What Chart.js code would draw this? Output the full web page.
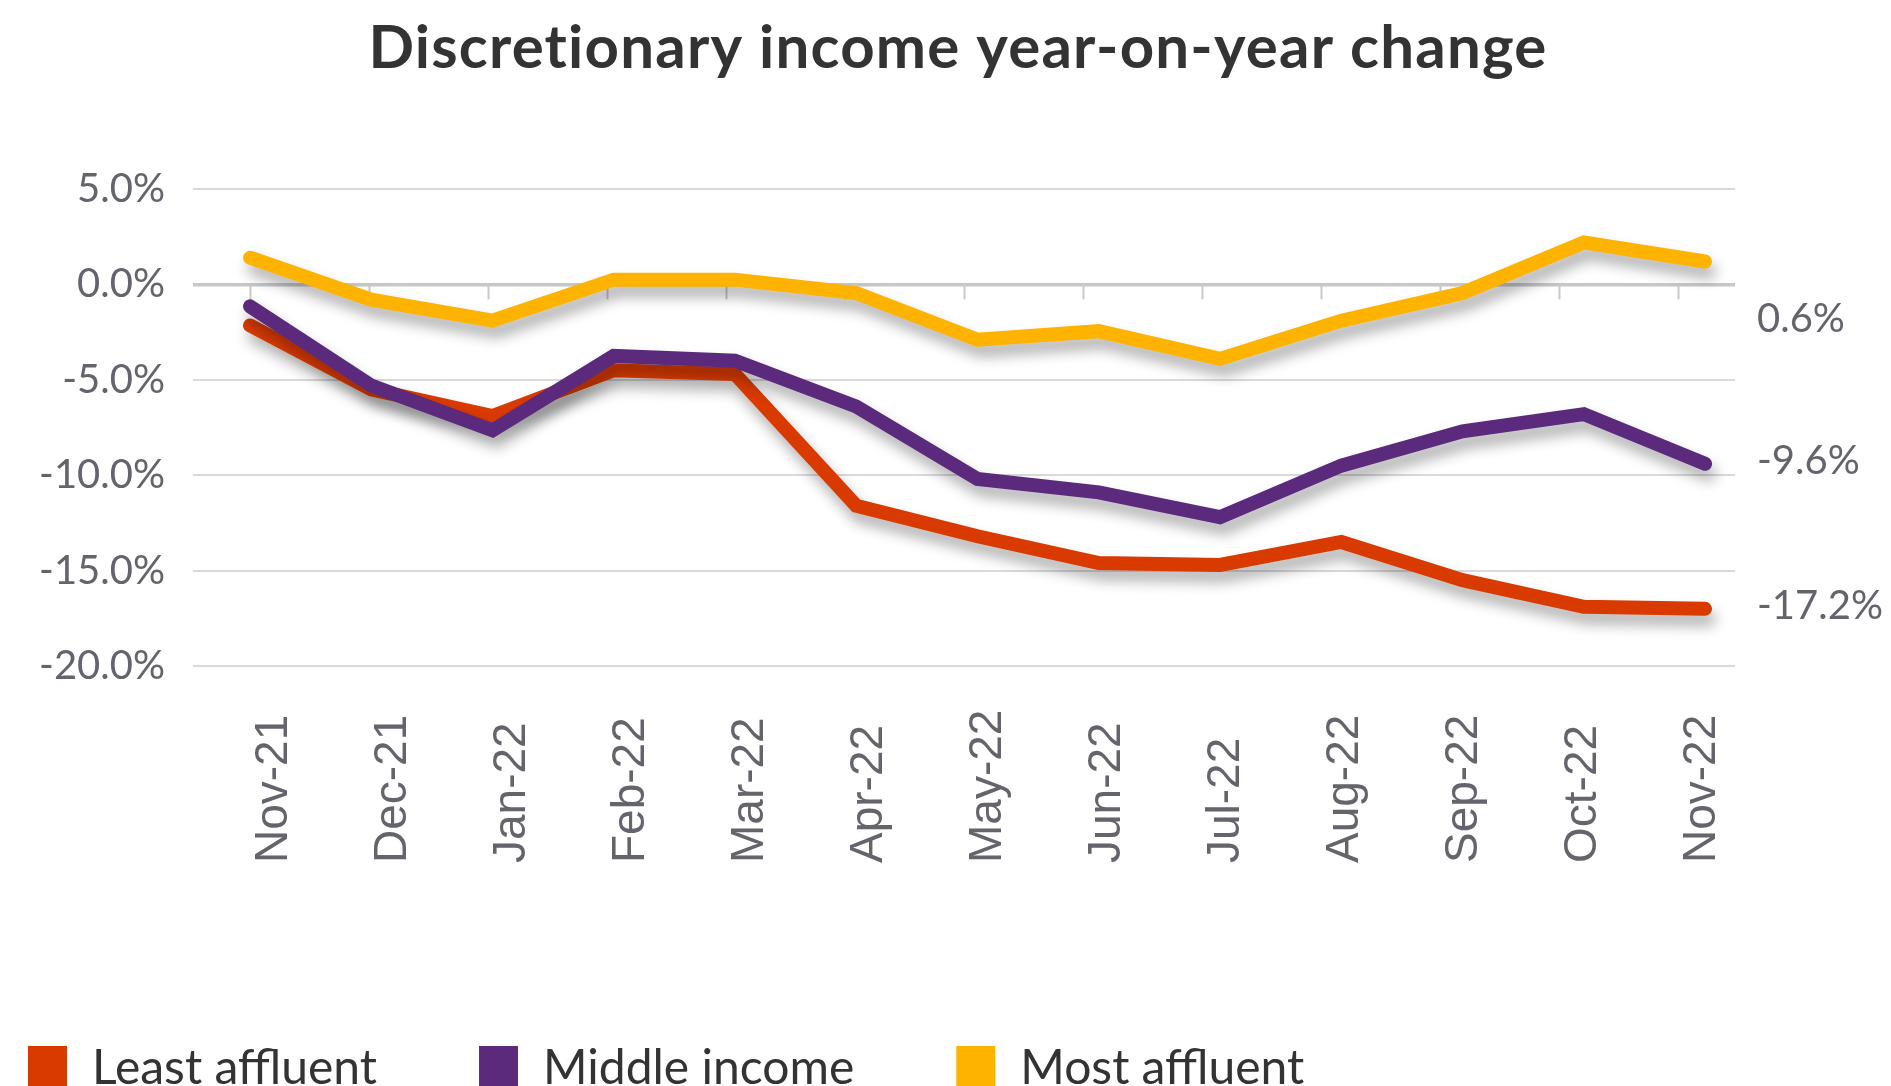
<!DOCTYPE html>
<html>
<head>
<meta charset="utf-8">
<script src="https://cdn.jsdelivr.net/npm/chart.js@4.4.1/dist/chart.umd.min.js"></script>
<style>
  html, body { margin: 0; padding: 0; background: #ffffff; }
  #wrap { width: 1891px; height: 1086px; position: relative; }
</style>
</head>
<body>
<div id="wrap"><canvas id="chart"></canvas></div>
<script>
// ---------------- DATA ----------------
const categories = ['Nov-21', 'Dec-21', 'Jan-22', 'Feb-22', 'Mar-22', 'Apr-22', 'May-22',
                    'Jun-22', 'Jul-22', 'Aug-22', 'Sep-22', 'Oct-22', 'Nov-22'];
const leastAffluent = [-2.15, -5.5, -6.9, -4.5, -4.7, -11.6, -13.2, -14.6, -14.7, -13.5, -15.5, -16.9, -17.0];
const middleIncome  = [-1.15, -5.3, -7.65, -3.75, -4.0, -6.4, -10.2, -10.9, -12.2, -9.5, -7.7, -6.8, -9.4];
const mostAffluent  = [1.4, -0.8, -1.9, 0.25, 0.25, -0.45, -2.9, -2.45, -3.9, -1.9, -0.45, 2.2, 1.2];
const seriesNames = ['Least affluent', 'Middle income', 'Most affluent'];
const endLabels = ['-17.2%', '-9.6%', '0.6%'];
const yTicks = [-20, -15, -10, -5, 0, 5];

const colors = ['#D93A00', '#5B2A7D', '#FDB300'];
const TEXT_GREY = '#65636B';

function toPoints(arr) {
    return arr.map((v, i) => ({ x: i, y: v }));
}

// ---------------- CUSTOM DRAWING ----------------
const decor = {
    id: 'decor',
    beforeDatasetsDraw(chart) {
        const ctx = chart.ctx;
        const xt = chart.scales.xt;
        const y = chart.scales.y;
        const zero = y.getPixelForValue(0);

        // small category ticks under the zero line
        ctx.save();
        ctx.strokeStyle = '#C9C9C9';
        ctx.lineWidth = 2;
        categories.forEach((c, i) => {
            const px = Math.round(xt.getPixelForValue(i)) + 0.5;
            ctx.beginPath();
            ctx.moveTo(px, zero);
            ctx.lineTo(px, zero + 15);
            ctx.stroke();
        });
        ctx.restore();

        // drop shadow for the lines
        ctx.save();
        ctx.shadowColor = 'rgba(0,0,0,0.32)';
        ctx.shadowBlur = 14;
        ctx.shadowOffsetX = 4;
        ctx.shadowOffsetY = 10;
    },
    afterDatasetsDraw(chart) {
        chart.ctx.restore();
    },
    afterDraw(chart) {
        const ctx = chart.ctx;
        const xt = chart.scales.xt;
        const y = chart.scales.y;
        ctx.save();

        // title
        ctx.fillStyle = '#333333';
        ctx.font = 'bold 60px Lato';
        ctx.letterSpacing = '1.2px';
        ctx.textAlign = 'center';
        ctx.textBaseline = 'alphabetic';
        ctx.fillText('Discretionary income year-on-year change', 958, 68);
        ctx.letterSpacing = '0px';

        // x labels, rotated, start aligned at the bottom
        ctx.fillStyle = TEXT_GREY;
        ctx.font = '46px "Liberation Sans"';
        ctx.textAlign = 'left';
        categories.forEach((c, i) => {
            ctx.save();
            ctx.translate(xt.getPixelForValue(i) + 37, 863);
            ctx.rotate(-Math.PI / 2);
            ctx.fillText(c, 0, 0);
            ctx.restore();
        });

        // end labels on the right
        ctx.font = '40px Lato';
        const offsets = [10, 10, 70];
        const series = [leastAffluent, middleIncome, mostAffluent];
        series.forEach((s, k) => {
            const py = y.getPixelForValue(s[s.length - 1]) + offsets[k];
            ctx.fillText(endLabels[k], 1757, py);
        });

        // legend
        ctx.font = '48px Lato';
        ctx.textBaseline = 'alphabetic';
        let lx = 28;
        chart.data.datasets.forEach((ds) => {
            ctx.fillStyle = ds.borderColor;
            ctx.fillRect(lx, 1046, 39, 42);
            ctx.fillStyle = '#333333';
            ctx.fillText(ds.label, lx + 64, 1084);
            lx += 64 + ctx.measureText(ds.label).width + 102;
        });

        ctx.restore();
    }
};

// ---------------- CHART ----------------
new Chart(document.getElementById('chart'), {
    type: 'line',
    data: {
        datasets: [
            { label: seriesNames[0], data: toPoints(leastAffluent), borderColor: colors[0], backgroundColor: colors[0], order: 1 },
            { label: seriesNames[1], data: toPoints(middleIncome), borderColor: colors[1], backgroundColor: colors[1], order: 0 },
            { label: seriesNames[2], data: toPoints(mostAffluent), borderColor: colors[2], backgroundColor: colors[2], order: 2 }
        ]
    },
    options: {
        responsive: true,
        maintainAspectRatio: false,
        animation: false,
        layout: { padding: { top: 189, right: 156, bottom: 420, left: 0 } },
        elements: {
            line: { borderWidth: 14, borderCapStyle: 'round', borderJoinStyle: 'miter', tension: 0, fill: false },
            point: { radius: 0, hoverRadius: 0 }
        },
        plugins: {
            legend: { display: false },
            title: { display: false },
            tooltip: { enabled: false }
        },
        scales: {
            x: { type: 'linear', min: -0.47, max: 12.247, display: false },
            xt: { type: 'linear', axis: 'x', position: 'bottom', min: -0.479, max: 12.479, display: false },
            y: {
                min: -20,
                max: 5,
                afterBuildTicks: s => { s.ticks = yTicks.map(v => ({ value: v })); },
                afterFit: s => { s.width = 193; },
                border: { display: false },
                grid: {
                    drawTicks: false,
                    color: c => c.tick && c.tick.value === 0 ? '#C5C8C9' : '#DADADA',
                    lineWidth: c => c.tick && c.tick.value === 0 ? 3.5 : 2
                },
                ticks: {
                    padding: 28,
                    color: TEXT_GREY,
                    font: { family: 'Lato', size: 40 },
                    callback: v => v.toFixed(1) + '%'
                }
            }
        }
    },
    plugins: [decor]
});
</script>
</body>
</html>
